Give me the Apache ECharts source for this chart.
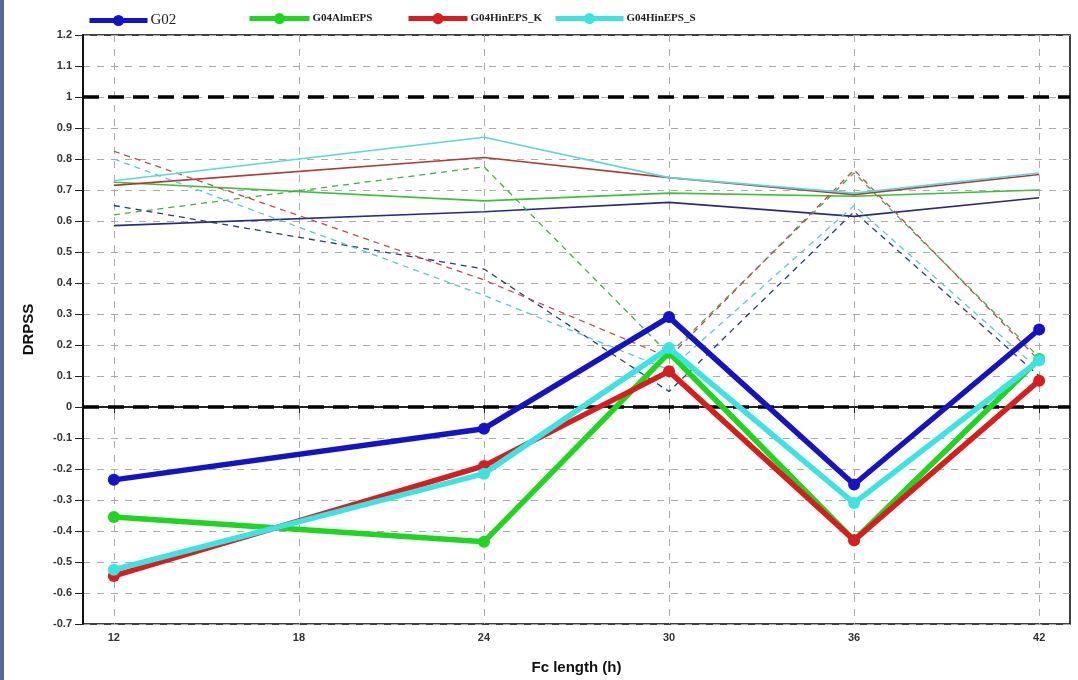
<!DOCTYPE html>
<html>
<head>
<meta charset="utf-8">
<script src="https://cdn.jsdelivr.net/npm/echarts@6/dist/echarts.min.js"></script>
<style>html,body{margin:0;padding:0;background:#fff;}#c{width:1078px;height:680px;}</style>
</head>
<body>
<div id="c"></div>
<script>
// ---- data ----
const hours = [12, 24, 30, 36, 42];
const xTicks = [12, 18, 24, 30, 36, 42];
const seriesNames = ['G02', 'G04AlmEPS', 'G04HinEPS_K', 'G04HinEPS_S'];
// thick lines with markers
const g02 = [-0.235, -0.07, 0.29, -0.25, 0.25];
const aml = [-0.355, -0.435, 0.175, -0.43, 0.155];
const hinK = [-0.545, -0.19, 0.115, -0.43, 0.085];
const hinS = [-0.525, -0.215, 0.19, -0.31, 0.15];
// thin solid lines
const g02Solid = [0.585, 0.63, 0.66, 0.615, 0.675];
const amlSolid = [0.725, 0.665, 0.69, 0.68, 0.70];
const hinKSolid = [0.715, 0.805, 0.74, 0.685, 0.75];
const hinSSolid = [0.73, 0.87, 0.74, 0.69, 0.755];
// thin dashed lines
const g02Dash = [0.65, 0.445, 0.05, 0.63, 0.10];
const amlDash = [0.62, 0.775, 0.17, 0.755, 0.16];
const hinKDash = [0.825, 0.41, 0.16, 0.765, 0.15];
const hinSDash = [0.80, 0.36, 0.12, 0.65, 0.12];
// reference lines
const refLines = [1, 0];

const thickColors = ['#1414c4', '#22d422', '#d61e1e', '#3fe2e2'];
const solidColors = ['#2a2a80', '#3cc03c', '#b03a3a', '#5ad8d8'];
const dashColors = ['#283c78', '#44aa44', '#c04a4a', '#58c8d0'];

function pts(arr) { return hours.map((h, i) => [h, arr[i]]); }

const thinSeries = [];
[[g02Solid, g02Dash], [amlSolid, amlDash], [hinKSolid, hinKDash], [hinSSolid, hinSDash]].forEach((p, i) => {
  thinSeries.push({
    type: 'line', data: pts(p[0]), symbol: 'none', silent: true,
    lineStyle: { color: solidColors[i], width: 1.6 }, z: 3
  });
  thinSeries.push({
    type: 'line', data: pts(p[1]), symbol: 'none', silent: true,
    lineStyle: { color: dashColors[i], width: 1.3, type: [6, 5] }, z: 3
  });
});

const thickData = [g02, aml, hinK, hinS];
const zOrder = [9, 6, 7, 8];
const thickSeries = thickData.map((arr, i) => ({
  name: seriesNames[i], type: 'line', data: pts(arr),
  symbol: 'circle', symbolSize: 12,
  lineStyle: { color: thickColors[i], width: 5.5 },
  itemStyle: { color: thickColors[i] },
  z: zOrder[i]
}));

// reference lines series
thickSeries.push({
  type: 'line', data: [], silent: true,
  markLine: {
    silent: true, symbol: 'none', label: { show: false },
    lineStyle: { color: '#000', width: 3.5, type: [16, 9] },
    data: refLines.map(v => ({ yAxis: v }))
  },
  z: 4
});

const legendFont = 'Liberation Serif';
const legendDefs = [
  { name: 'G02', left: 82, w: 58, size: 15 },
  { name: 'G04AlmEPS', left: 242, w: 60, size: 11 },
  { name: 'G04HinEPS_K', left: 401, w: 59, size: 11 },
  { name: 'G04HinEPS_S', left: 548, w: 68, size: 11 }
];

const option = {
  animation: false,
  backgroundColor: '#fff',
  grid: { left: 83, right: 8, top: 35, bottom: 50, show: true, borderColor: '#000', borderWidth: 1.5, backgroundColor: 'transparent' },
  legend: legendDefs.map(d => ({
    data: [d.name], left: d.left, top: 8, itemWidth: d.w, itemHeight: 14, itemGap: 0,
    lineStyle: { width: 5 },
    textStyle: { fontFamily: legendFont, fontSize: d.size, color: '#222', fontWeight: d.size > 12 ? 'normal' : 'bold', padding: [0, 0, 0, -2] }
  })),
  xAxis: {
    type: 'value', min: 11, max: 43,
    name: 'Fc length (h)', nameLocation: 'middle', nameGap: 36,
    nameTextStyle: { fontFamily: 'Liberation Sans', fontWeight: 'bold', fontSize: 15, color: '#111' },
    axisLine: { show: true, lineStyle: { color: '#222', width: 2 } },
    axisTick: { show: true, customValues: xTicks, length: 6, lineStyle: { color: '#222' } },
    axisLabel: { customValues: xTicks, fontFamily: 'Liberation Sans Narrow, Liberation Sans', fontWeight: 'bold', fontSize: 11, color: '#333', margin: 8 },
    splitLine: { show: true, lineStyle: { color: '#aaa', type: [7, 7], width: 1 } }
  },
  yAxis: {
    type: 'value', min: -0.7, max: 1.2, interval: 0.1,
    name: 'DRPSS', nameLocation: 'middle', nameGap: 47,
    nameTextStyle: { fontFamily: 'Liberation Sans', fontWeight: 'bold', fontSize: 15, color: '#111' },
    axisLine: { show: true, lineStyle: { color: '#111', width: 2 } },
    axisTick: { show: true, length: 8, lineStyle: { color: '#222' } },
    axisLabel: {
      fontFamily: 'Liberation Sans Narrow, Liberation Sans', fontWeight: 'bold', fontSize: 11, color: '#333', margin: 11,
      formatter: v => { const r = Math.round(v * 10) / 10; return String(r); }
    },
    splitLine: { show: true, lineStyle: { color: '#aaa', type: [7, 7], width: 1 } }
  },
  graphic: [
    { type: 'rect', left: 0, top: 0, shape: { width: 4, height: 680 }, style: { fill: '#5a6496' }, silent: true }
  ],
  series: thinSeries.concat(thickSeries)
};

echarts.init(document.getElementById('c')).setOption(option);
</script>
</body>
</html>
